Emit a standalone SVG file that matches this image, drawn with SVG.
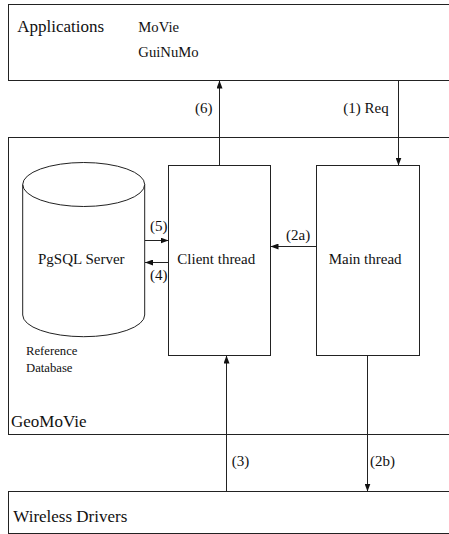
<svg xmlns="http://www.w3.org/2000/svg" width="449" height="534" viewBox="0 0 449 534">
<style>
.box{fill:#fff;stroke:#222;stroke-width:1}
.ln{fill:none;stroke:#222;stroke-width:1}
.arr{fill:none;stroke:#222;stroke-width:1;marker-end:url(#ah)}
text{font-family:"Liberation Serif","Times New Roman",serif;fill:#111}
.big{font-size:17px}
.app{font-size:14.7px}
.nd{font-size:15px}
.lb{font-size:15px}
.sm{font-size:12.7px}
</style>
<defs>
<marker id="ah" markerUnits="userSpaceOnUse" markerWidth="9" markerHeight="6" refX="8" refY="3" orient="auto">
<path d="M0,0 L8,3 L0,6 z" fill="#111"/>
</marker>
</defs>
<rect width="449" height="534" fill="#fff"/>
<g id="applications">
<rect class="box" x="8.5" y="4.5" width="450" height="76"/>
<text class="big" x="17.3" y="32">Applications</text>
<text class="app" x="138.3" y="32">MoVie</text>
<text class="app" x="138.3" y="57">GuiNuMo</text>
</g>
<g id="geomovie">
<rect class="box" x="8.5" y="137.5" width="450" height="297"/>
<text class="big" x="11" y="427">GeoMoVie</text>
</g>
<g id="wireless">
<rect class="box" x="8.5" y="491.5" width="450" height="42"/>
<text class="big" x="13.3" y="522">Wireless Drivers</text>
</g>
<g id="pgsql">
<path class="ln" d="M22.7,184.5 L22.7,315 A61,21.7 0 0 0 144.7,315 L144.7,184.5"/>
<ellipse class="ln" cx="83.7" cy="184.5" rx="61" ry="22"/>
<text class="nd" x="81.3" y="264" text-anchor="middle">PgSQL Server</text>
<text class="sm" x="26" y="355">Reference</text>
<text class="sm" x="26" y="371.5">Database</text>
</g>
<g id="client">
<rect class="box" x="168.5" y="165.5" width="102" height="190"/>
<text class="nd" x="177.3" y="264">Client thread</text>
</g>
<g id="main">
<rect class="box" x="316.5" y="165.5" width="103" height="190"/>
<text class="nd" x="328.7" y="264">Main thread</text>
</g>
<g id="connectors">
<line class="arr" x1="219.5" y1="165.5" x2="219.5" y2="80.5"/>
<text class="lb" x="195" y="113">(6)</text>
<line class="arr" x1="398.5" y1="80.5" x2="398.5" y2="165.5"/>
<text class="lb" x="343.3" y="113">(1) Req</text>
<line class="arr" x1="145" y1="240.5" x2="168.5" y2="240.5"/>
<text class="lb" x="150" y="231">(5)</text>
<line class="arr" x1="168.5" y1="262.5" x2="145" y2="262.5"/>
<text class="lb" x="150" y="279.5">(4)</text>
<line class="arr" x1="316.5" y1="246.5" x2="270.5" y2="246.5"/>
<text class="lb" x="286" y="239.5">(2a)</text>
<line class="arr" x1="226.5" y1="491.5" x2="226.5" y2="355.5"/>
<text class="lb" x="231.7" y="466">(3)</text>
<line class="arr" x1="367.5" y1="355.5" x2="367.5" y2="491.5"/>
<text class="lb" x="370" y="466">(2b)</text>
</g>
</svg>
